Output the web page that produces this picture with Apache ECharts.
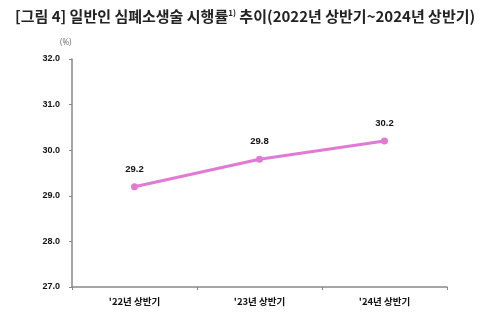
<!DOCTYPE html>
<html><head><meta charset="utf-8">
<script src="https://cdn.jsdelivr.net/npm/echarts@6/dist/echarts.min.js"></script>
<style>html,body{margin:0;padding:0;background:#fff}#c{width:500px;height:315px}</style>
</head><body><div id="c"></div>
<script>
const categories = ["'22년 상반기", "'23년 상반기", "'24년 상반기"];
const values = [29.2, 29.8, 30.2];
const yTicks = [27, 28, 29, 30, 31, 32];

const chart = echarts.init(document.getElementById('c'));
chart.setOption({
  backgroundColor: '#fff',
  animation: false,
  title: {
    text: '{a|[그림 4] 일반인 심폐소생술 시행률}{s|1)}{a| 추이(2022년 상반기~2024년 상반기)}',
    left: 10, top: 4,
    textStyle: {
      rich: {
        a: {fontFamily: 'Noto Sans CJK KR', fontSize: 15, color: '#222', fontWeight: 'bold'},
        s: {fontFamily: 'Noto Sans CJK KR', fontSize: 8, color: '#222', fontWeight: 'bold', verticalAlign: 'top', padding: [0,0,6,0]}
      }
    }
  },
  graphic: [{
    type: 'text', left: 60, top: 39,
    style: {text: '(%)', fontSize: 8, fill: '#777', fontFamily: 'Noto Sans'}
  }],
  grid: {left: 72, right: 53, top: 59, bottom: 28},
  xAxis: {
    type: 'category', data: categories, boundaryGap: true,
    axisLine: {lineStyle: {color: '#888', width: 1.5}},
    axisTick: {show: true, alignWithLabel: false, length: 3, lineStyle: {color: '#888'}},
    axisLabel: {fontFamily: 'Noto Sans CJK KR', fontSize: 9.5, fontWeight: 'bold', color: '#111', margin: 10}
  },
  yAxis: {
    type: 'value', min: yTicks[0], max: yTicks[yTicks.length-1], interval: 1,
    axisLine: {show: true, lineStyle: {color: '#888', width: 1.5}},
    axisTick: {show: true, length: 3, lineStyle: {color: '#888'}},
    splitLine: {show: false},
    axisLabel: {formatter: v => v.toFixed(1), fontFamily: 'Liberation Sans', fontSize: 9, fontWeight: 'bold', color: '#111', margin: 12}
  },
  series: [{
    type: 'line', data: values,
    lineStyle: {color: '#e07ad2', width: 3},
    itemStyle: {color: '#e07ad2'},
    symbol: 'circle', symbolSize: 7,
    label: {show: true, position: 'top', distance: 9, formatter: p => p.value.toFixed(1),
      fontFamily: 'Liberation Sans', fontSize: 9.5, fontWeight: 'bold', color: '#111'}
  }]
});
</script></body></html>
